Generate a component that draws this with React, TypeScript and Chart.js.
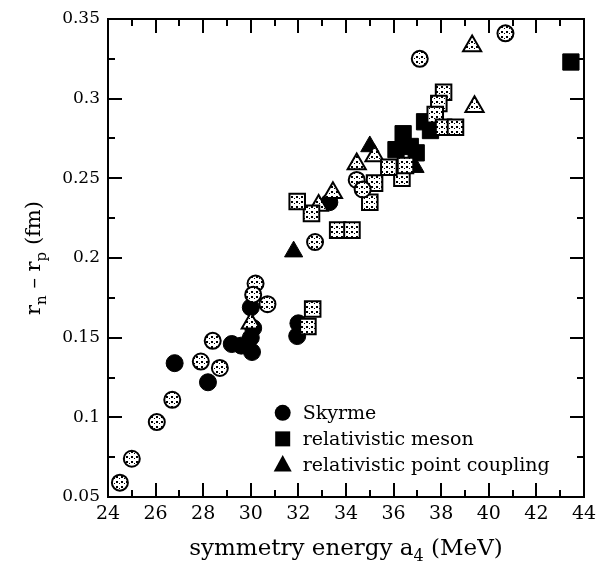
import React, { useEffect, useRef } from 'react';
import { Chart, registerables } from 'chart.js';

Chart.register(...registerables);

// Axis ranges and tick spacing
const X_MIN = 24;
const X_MAX = 44;
const X_MAJOR = 2;
const X_MINOR = 1;
const Y_MIN = 0.05;
const Y_MAX = 0.35;
const Y_MAJOR = 0.05;
const Y_MINOR = 0.025;

// Skyrme models (solid and patterned markers)
const skyrmeSolidX = [26.8, 28.2, 29.2, 29.6, 30.0, 30.05, 30.1, 30.0, 32.0, 31.95, 33.3];
const skyrmeSolidY = [0.134, 0.122, 0.146, 0.145, 0.150, 0.141, 0.156, 0.169, 0.159, 0.151, 0.235];
const skyrmeOpenX = [24.5, 25.0, 26.05, 26.7, 27.9, 28.4, 28.7, 30.2, 30.1, 30.7, 32.7, 34.45, 34.7, 37.1, 40.7];
const skyrmeOpenY = [0.059, 0.074, 0.097, 0.111, 0.135, 0.148, 0.131, 0.184, 0.177, 0.171, 0.210, 0.249, 0.243, 0.325, 0.341];

// Relativistic meson-exchange models
const mesonSolidX = [43.45, 37.3, 37.55, 36.4, 36.7, 36.1, 36.95];
const mesonSolidY = [0.323, 0.2855, 0.280, 0.278, 0.270, 0.268, 0.266];
const mesonOpenX = [38.1, 37.9, 37.75, 38.1, 38.6, 36.35, 36.5, 35.8, 35.2, 35.0, 33.65, 34.25, 32.55, 31.95, 32.6, 32.4];
const mesonOpenY = [0.304, 0.297, 0.290, 0.282, 0.282, 0.250, 0.258, 0.257, 0.247, 0.235, 0.2175, 0.2175, 0.228, 0.2355, 0.168, 0.157];

// Relativistic point-coupling models
const pcSolidX = [31.8, 35.0, 36.9];
const pcSolidY = [0.204, 0.270, 0.257];
const pcOpenX = [39.3, 39.4, 35.2, 34.45, 32.85, 33.45, 30.0];
const pcOpenY = [0.333, 0.295, 0.264, 0.259, 0.233, 0.241, 0.159];

const legendLabels = ['Skyrme', 'relativistic meson', 'relativistic point coupling'];
const legendShapes = ['circle', 'rect', 'triangle'];

const FONT = '"DejaVu Serif", serif';

const pts = (xs: number[], ys: number[]) => xs.map((x, i) => ({ x, y: ys[i] }));

function makeHatch(): CanvasPattern | string {
  const tile = document.createElement('canvas');
  tile.width = 5;
  tile.height = 5;
  const t = tile.getContext('2d');
  if (!t) return '#fff';
  t.fillStyle = '#fff';
  t.fillRect(0, 0, 5, 5);
  t.fillStyle = '#000';
  t.fillRect(1, 1, 2, 2);
  t.fillRect(4, 3, 1, 1);
  const p = t.createPattern(tile, 'repeat');
  return p || '#fff';
}

function drawShape(ctx: CanvasRenderingContext2D, shape: string, x: number, y: number, r: number) {
  ctx.beginPath();
  if (shape === 'circle') {
    ctx.arc(x, y, r, 0, Math.PI * 2);
  } else if (shape === 'rect') {
    ctx.rect(x - r, y - r, 2 * r, 2 * r);
  } else {
    ctx.moveTo(x, y - r * 1.1);
    ctx.lineTo(x + r, y + r * 0.75);
    ctx.lineTo(x - r, y + r * 0.75);
    ctx.closePath();
  }
  ctx.fill();
}

const framePlugin = {
  id: 'frameTicks',
  beforeDatasetsDraw(chart: any) {
    const { ctx, chartArea: a, scales } = chart;
    const xs = scales.x;
    const ys = scales.y;
    ctx.save();
    ctx.strokeStyle = '#000';
    ctx.lineWidth = 2;
    ctx.strokeRect(a.left, a.top, a.right - a.left, a.bottom - a.top);
    ctx.beginPath();
    const nx = Math.round((X_MAX - X_MIN) / X_MINOR);
    for (let i = 0; i <= nx; i++) {
      const v = X_MIN + i * X_MINOR;
      const major = Math.abs(v / X_MAJOR - Math.round(v / X_MAJOR)) < 1e-6;
      const len = major ? 14 : 7;
      const px = Math.round(xs.getPixelForValue(v));
      ctx.moveTo(px, a.bottom);
      ctx.lineTo(px, a.bottom - len);
      ctx.moveTo(px, a.top);
      ctx.lineTo(px, a.top + len);
    }
    const ny = Math.round((Y_MAX - Y_MIN) / Y_MINOR);
    for (let i = 0; i <= ny; i++) {
      const v = Y_MIN + i * Y_MINOR;
      const major = i % 2 === 0;
      const len = major ? 14 : 7;
      const py = Math.round(ys.getPixelForValue(v));
      ctx.moveTo(a.left, py);
      ctx.lineTo(a.left + len, py);
      ctx.moveTo(a.right, py);
      ctx.lineTo(a.right - len, py);
    }
    ctx.stroke();
    ctx.restore();
  },
  afterDraw(chart: any) {
    const { ctx, chartArea: a } = chart;
    ctx.save();
    ctx.fillStyle = '#000';

    // x-axis title with subscript
    const big = `23px ${FONT}`;
    const small = `16px ${FONT}`;
    ctx.font = big;
    const t1 = 'symmetry energy a';
    const t3 = ' (MeV)';
    const w1 = ctx.measureText(t1).width;
    const w3 = ctx.measureText(t3).width;
    ctx.font = small;
    const w2 = ctx.measureText('4').width;
    const cx = (a.left + a.right) / 2;
    const x0 = cx - (w1 + w2 + w3) / 2;
    const by = a.bottom + 58;
    ctx.textBaseline = 'alphabetic';
    ctx.textAlign = 'left';
    ctx.font = big;
    ctx.fillText(t1, x0, by);
    ctx.font = small;
    ctx.fillText('4', x0 + w1, by + 6);
    ctx.font = big;
    ctx.fillText(t3, x0 + w1 + w2, by);

    // y-axis title, rotated, with subscripts
    const yb = `21px ${FONT}`;
    const ys = `15px ${FONT}`;
    const parts: [string, boolean][] = [['r', false], ['n', true], [' \u2013 r', false], ['p', true], [' (fm)', false]];
    let total = 0;
    const widths = parts.map(([s, sub]) => {
      ctx.font = sub ? ys : yb;
      const w = ctx.measureText(s).width;
      total += w;
      return w;
    });
    ctx.translate(a.left - 68, (a.top + a.bottom) / 2);
    ctx.rotate(-Math.PI / 2);
    let px = -total / 2;
    parts.forEach(([s, sub], i) => {
      ctx.font = sub ? ys : yb;
      ctx.fillText(s, px, sub ? 6 : 0);
      px += widths[i];
    });
    ctx.setTransform(1, 0, 0, 1, 0, 0);

    // legend inside the plot
    const lx = a.left + (a.right - a.left) * 0.367;
    const ly0 = a.top + (a.bottom - a.top) * 0.824;
    const dy = 26;
    ctx.font = `19px ${FONT}`;
    ctx.textBaseline = 'middle';
    legendLabels.forEach((label, i) => {
      const y = ly0 + i * dy;
      const r = legendShapes[i] === 'circle' ? 8 : legendShapes[i] === 'rect' ? 7.5 : 9;
      drawShape(ctx, legendShapes[i], lx, y, r);
      ctx.fillText(label, lx + 20, y + 1);
    });
    ctx.restore();
  },
};

export default function App() {
  const ref = useRef<HTMLCanvasElement | null>(null);

  useEffect(() => {
    if (!ref.current) return;
    const hatch = makeHatch();
    const solid = (data: any[], pointStyle: string, radius: number) => ({
      data,
      pointStyle,
      pointRadius: radius,
      backgroundColor: '#000',
      borderColor: '#000',
      borderWidth: 1,
      showLine: false,
    });
    const open = (data: any[], pointStyle: string, radius: number) => ({
      data,
      pointStyle,
      pointRadius: radius,
      backgroundColor: hatch,
      borderColor: '#000',
      borderWidth: 2,
      showLine: false,
    });
    const chart = new Chart(ref.current, {
      type: 'scatter',
      data: {
        datasets: [
          open(pts(skyrmeOpenX, skyrmeOpenY), 'circle', 8),
          open(pts(mesonOpenX, mesonOpenY), 'rect', 11),
          open(pts(pcOpenX, pcOpenY), 'triangle', 10.5),
          solid(pts(skyrmeSolidX, skyrmeSolidY), 'circle', 8.5),
          solid(pts(mesonSolidX, mesonSolidY), 'rect', 11.5),
          solid(pts(pcSolidX, pcSolidY), 'triangle', 10.5),
        ] as any,
      },
      plugins: [framePlugin],
      options: {
        animation: false,
        responsive: false,
        layout: { padding: { left: 8, right: 19, top: 19, bottom: 0 } },
        plugins: {
          legend: { display: false },
          tooltip: { enabled: false },
        },
        scales: {
          x: {
            type: 'linear',
            min: X_MIN,
            max: X_MAX,
            grid: { display: false, drawTicks: false },
            border: { display: false },
            ticks: {
              stepSize: X_MAJOR,
              color: '#000',
              padding: 6,
              maxRotation: 0,
              font: { family: FONT, size: 19 },
            },
            afterFit: (s: any) => {
              s.height = 69;
            },
          },
          y: {
            type: 'linear',
            min: Y_MIN,
            max: Y_MAX,
            grid: { display: false, drawTicks: false },
            border: { display: false },
            ticks: {
              stepSize: Y_MAJOR,
              color: '#000',
              padding: 8,
              font: { family: FONT, size: 17 },
              callback: (v: any) => String(Number(Number(v).toFixed(2))),
            },
            afterFit: (s: any) => {
              s.width = 100;
            },
          },
        },
      } as any,
    });
    return () => chart.destroy();
  }, []);

  return (
    <div style={{ position: 'fixed', left: 0, top: 0, width: 603, height: 566, background: '#fff' }}>
      <canvas ref={ref} width={603} height={566} style={{ width: 603, height: 566, display: 'block' }} />
    </div>
  );
}
